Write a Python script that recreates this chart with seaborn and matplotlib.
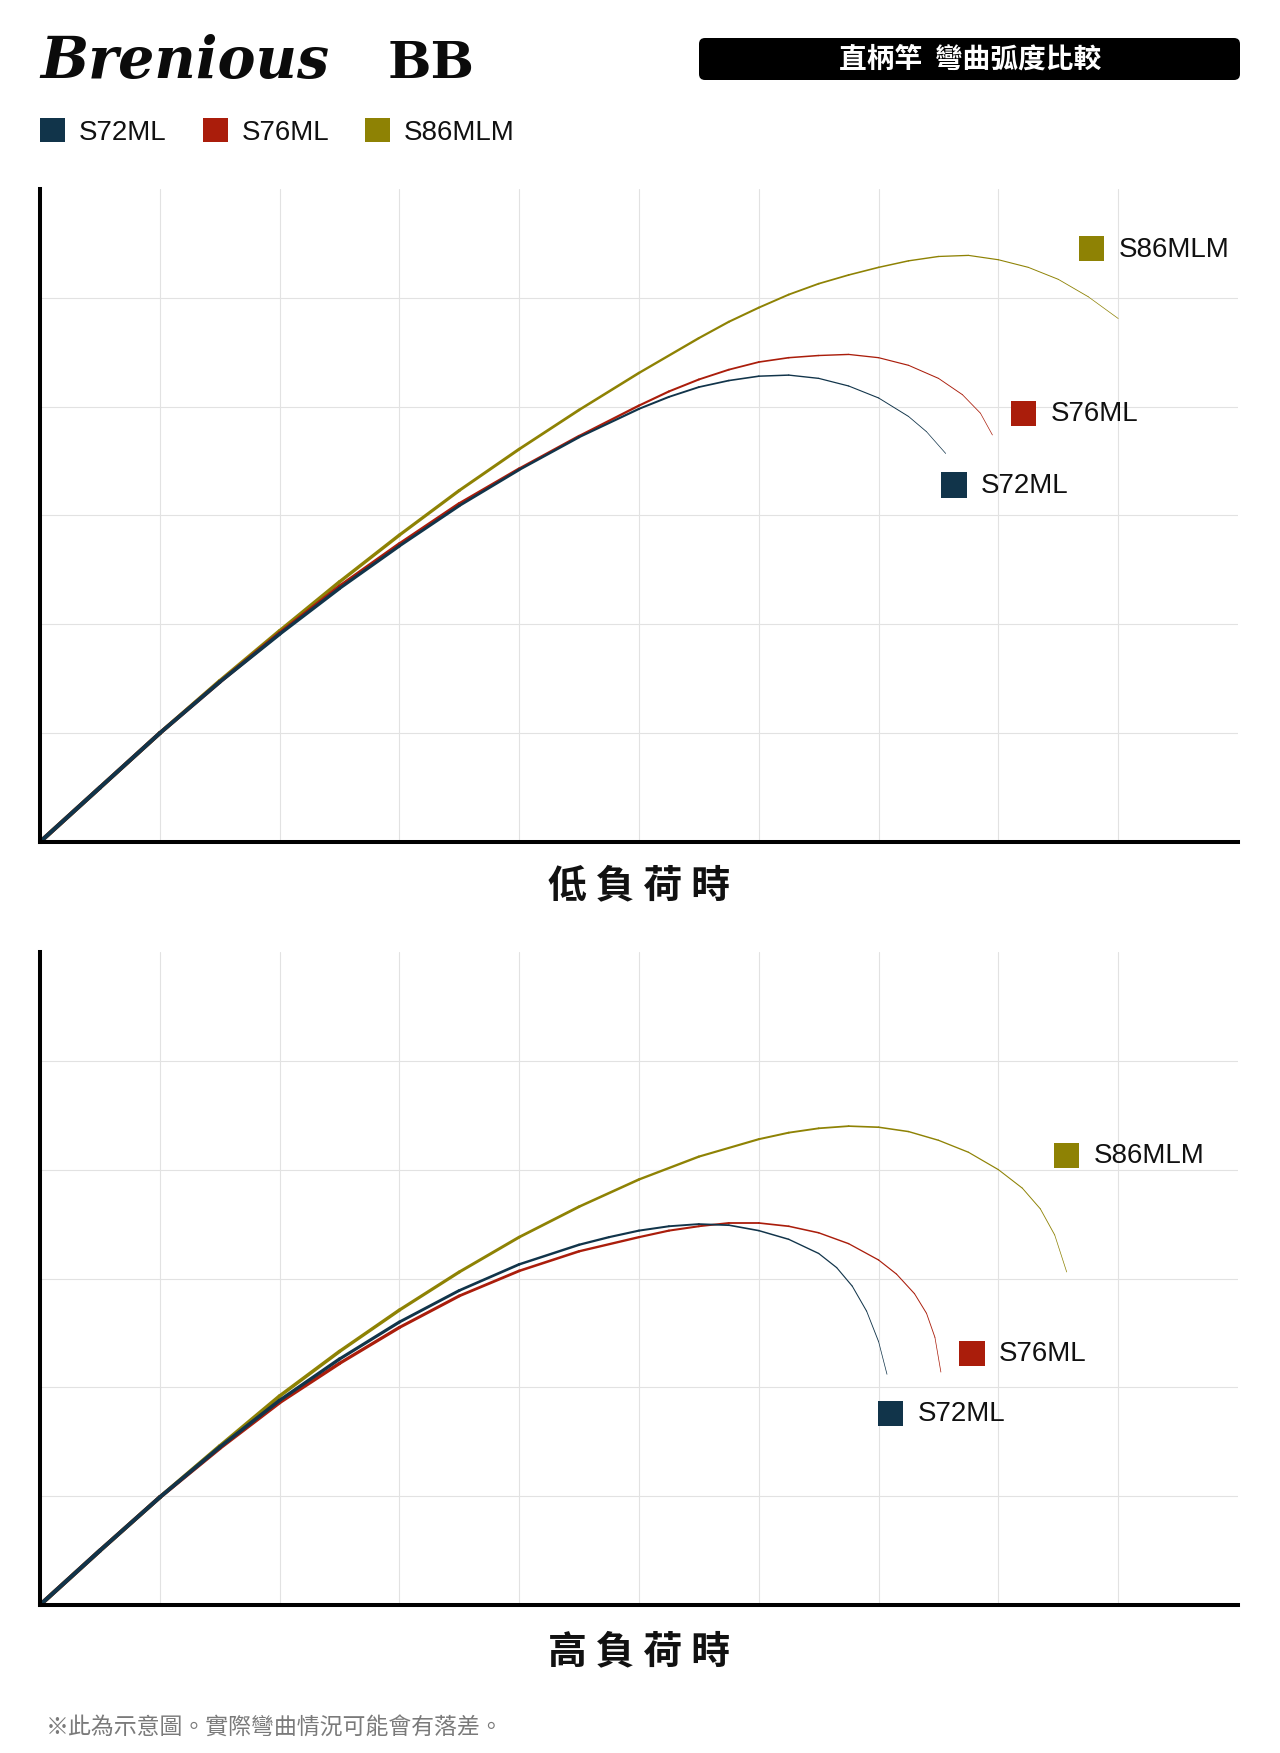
import numpy as np
import pandas as pd
import matplotlib.pyplot as plt
import seaborn as sns
from matplotlib.patches import Patch, FancyBboxPatch

W, H = 1280, 1753

models = ['S72ML', 'S76ML', 'S86MLM']
colors = {'S72ML': '#11344a', 'S76ML': '#aa1d0b', 'S86MLM': '#8e8204'}

# low load curves (grid units: x 0-10, y 0-6)
low_s72_x = [0, 0.5, 1, 1.5, 2, 2.5, 3, 3.5, 4, 4.5, 5, 5.25, 5.5, 5.75, 6, 6.25, 6.5, 6.75, 7, 7.25, 7.4, 7.56]
low_s72_y = [0, 0.50, 1.00, 1.47, 1.91, 2.33, 2.72, 3.09, 3.42, 3.72, 3.98, 4.09, 4.18, 4.24, 4.28, 4.29,
             4.26, 4.19, 4.08, 3.91, 3.77, 3.57]
low_s76_x = [0, 0.5, 1, 1.5, 2, 2.5, 3, 3.5, 4, 4.5, 5, 5.25, 5.5, 5.75, 6, 6.25, 6.5, 6.75, 7, 7.25, 7.5,
             7.7, 7.85, 7.95]
low_s76_y = [0, 0.50, 1.00, 1.47, 1.92, 2.35, 2.74, 3.11, 3.43, 3.73, 4.01, 4.14, 4.25, 4.34, 4.41, 4.45,
             4.47, 4.48, 4.45, 4.38, 4.26, 4.11, 3.94, 3.74]
low_s86_x = [0, 0.5, 1, 1.5, 2, 2.5, 3, 3.5, 4, 4.5, 5, 5.5, 5.75, 6, 6.25, 6.5, 6.75, 7, 7.25, 7.5, 7.75,
             8, 8.25, 8.5, 8.75, 9]
low_s86_y = [0, 0.50, 1.00, 1.48, 1.94, 2.39, 2.82, 3.23, 3.61, 3.97, 4.31, 4.63, 4.78, 4.91, 5.03, 5.13,
             5.21, 5.28, 5.34, 5.38, 5.39, 5.35, 5.28, 5.17, 5.01, 4.81]

# high load curves
high_s72_x = [0, 0.5, 1, 1.5, 2, 2.5, 3, 3.5, 4, 4.5, 4.75, 5, 5.25, 5.5, 5.75, 6, 6.25, 6.5, 6.65, 6.78,
              6.9, 7.0, 7.07]
high_s72_y = [0, 0.50, 0.99, 1.45, 1.88, 2.26, 2.60, 2.89, 3.13, 3.31, 3.38, 3.44, 3.48, 3.50, 3.49, 3.44,
              3.36, 3.23, 3.10, 2.93, 2.70, 2.42, 2.12]
high_s76_x = [0, 0.5, 1, 1.5, 2, 2.5, 3, 3.5, 4, 4.5, 5, 5.25, 5.5, 5.75, 6, 6.25, 6.5, 6.75, 7, 7.15,
              7.3, 7.4, 7.47, 7.52]
high_s76_y = [0, 0.50, 0.99, 1.44, 1.86, 2.22, 2.55, 2.84, 3.07, 3.25, 3.38, 3.44, 3.48, 3.51, 3.51, 3.48,
              3.42, 3.32, 3.17, 3.04, 2.86, 2.68, 2.46, 2.14]
high_s86_x = [0, 0.5, 1, 1.5, 2, 2.5, 3, 3.5, 4, 4.5, 5, 5.5, 6, 6.25, 6.5, 6.75, 7, 7.25, 7.5, 7.75, 8,
              8.2, 8.35, 8.47, 8.57]
high_s86_y = [0, 0.50, 0.99, 1.46, 1.92, 2.33, 2.71, 3.06, 3.38, 3.66, 3.91, 4.12, 4.28, 4.34, 4.38, 4.40,
              4.39, 4.35, 4.27, 4.16, 4.00, 3.83, 3.64, 3.40, 3.06]

# end-of-curve label squares
low_label_x = [7.63, 8.21, 8.78]
low_label_y = [3.28, 3.94, 5.45]
high_label_x = [7.10, 7.78, 8.57]
high_label_y = [1.76, 2.31, 4.13]

low_curves = {'S72ML': (low_s72_x, low_s72_y), 'S76ML': (low_s76_x, low_s76_y),
              'S86MLM': (low_s86_x, low_s86_y)}
high_curves = {'S72ML': (high_s72_x, high_s72_y), 'S76ML': (high_s76_x, high_s76_y),
               'S86MLM': (high_s86_x, high_s86_y)}

sns.set_theme(style='white')
plt.rcParams['font.family'] = ['Liberation Sans', 'Noto Sans CJK TC', 'DejaVu Sans']
cjk = ['Noto Sans CJK TC', 'DejaVu Sans']


def segments(xs, ys):
    # split a curve into pieces so the stroke can taper toward the tip
    xs, ys = np.asarray(xs, float), np.asarray(ys, float)
    step = np.hypot(np.diff(xs) * 120, np.diff(ys) * 110)
    frac = np.concatenate([[0], np.cumsum(step)]) / step.sum()
    rows = []
    for i in range(len(xs) - 1):
        w = 1 - ((frac[i] + frac[i + 1]) / 2) ** 1.4
        for j in (i, i + 1):
            rows.append({'x': xs[j], 'y': ys[j], 'seg': i, 'w': w})
    return pd.DataFrame(rows)


def draw_panel(ax, curves, lab_x, lab_y):
    for name in ['S86MLM', 'S76ML', 'S72ML']:
        xs, ys = curves[name]
        sns.lineplot(data=segments(xs, ys), x='x', y='y', units='seg', size='w',
                     sizes=(0.45, 3.0), size_norm=(0, 1), estimator=None, sort=False,
                     color=colors[name], legend=False, ax=ax, solid_capstyle='round')
    sns.scatterplot(x=lab_x, y=lab_y, hue=models, palette=colors, marker='s', s=330,
                    linewidth=0, legend=False, ax=ax, zorder=5, clip_on=False)
    for name, x, y in zip(models, lab_x, lab_y):
        ax.annotate(name, (x, y), xytext=(19.5, -0.5), textcoords='offset points',
                    ha='left', va='center', fontsize=20, color='#111111')
    ax.set_xlim(0, 10)
    ax.set_ylim(0, 6)
    ax.set_xticks(range(1, 10))
    ax.set_yticks(range(1, 6))
    ax.tick_params(length=0, labelbottom=False, labelleft=False)
    ax.grid(True, color='#e2e2e2', lw=0.8)
    ax.set_xlabel('')
    ax.set_ylabel('')
    sns.despine(ax=ax)
    for s in ['left', 'bottom']:
        ax.spines[s].set_color('black')
        ax.spines[s].set_linewidth(2.9)


fig = plt.figure(figsize=(W / 100, H / 100), dpi=100)
fig.patch.set_facecolor('white')

ax_low = fig.add_axes([40 / W, 1 - 842 / H, 1198 / W, 653 / H])
ax_high = fig.add_axes([40 / W, 1 - 1605 / H, 1198 / W, 653 / H])
draw_panel(ax_low, low_curves, low_label_x, low_label_y)
draw_panel(ax_high, high_curves, high_label_x, high_label_y)

fig.text(639 / W, 1 - 886 / H, '低 負 荷 時', ha='center', va='center', fontsize=28,
         fontweight='bold', family=cjk, color='#111111')
fig.text(639 / W, 1 - 1652 / H, '高 負 荷 時', ha='center', va='center', fontsize=28,
         fontweight='bold', family=cjk, color='#111111')
fig.text(46 / W, 1 - 1727 / H, '※此為示意圖。實際彎曲情況可能會有落差。', ha='left', va='center',
         fontsize=16.5, family=cjk, color='#7a7a7a')

# header
fig.text(40 / W, 1 - 78 / H, 'Brenious', ha='left', va='baseline', fontsize=41,
         family='DejaVu Serif', style='italic', fontweight='bold', color='#0b0b0b')
fig.text(388 / W, 1 - 78 / H, 'BB', ha='left', va='baseline', fontsize=37,
         family='DejaVu Serif', fontweight='bold', color='#0b0b0b')

banner = FancyBboxPatch((699 / 100, (H - 80) / 100), 541 / 100, 42 / 100,
                        boxstyle='round,pad=0,rounding_size=0.06',
                        transform=fig.dpi_scale_trans, fc='black', ec='none')
fig.add_artist(banner)
fig.text(970 / W, 1 - 60 / H, '直柄竿  彎曲弧度比較', ha='center', va='center', fontsize=20,
         fontweight='bold', family=cjk, color='white')

handles = [Patch(facecolor=colors[m], edgecolor='none', label=m) for m in models]
fig.legend(handles=handles, loc='center left', bbox_to_anchor=(40 / W, 1 - 132 / H),
           ncol=3, frameon=False, fontsize=20, handlelength=0.9, handleheight=0.9,
           handletextpad=0.5, columnspacing=1.3, borderpad=0, borderaxespad=0,
           labelcolor='#111111')

fig.savefig('out.png', dpi=100, facecolor='white')
